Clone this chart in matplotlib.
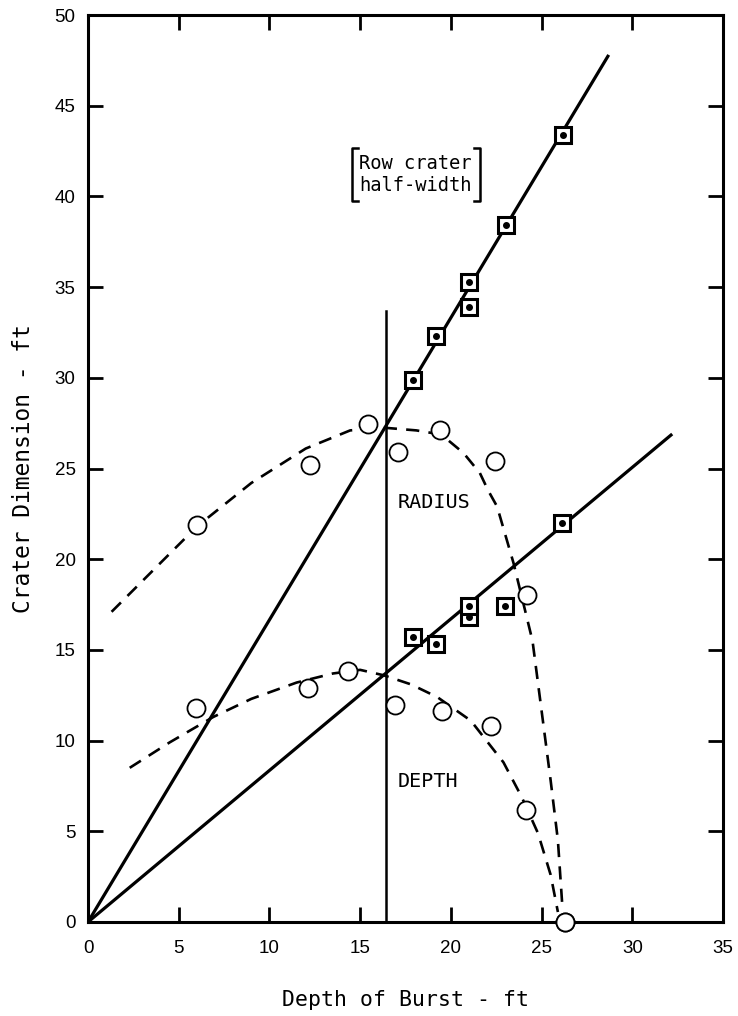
import matplotlib
matplotlib.use("Agg")
import matplotlib.pyplot as plt
from matplotlib.lines import Line2D

# ---- data ----
# Row crater half-width (squares, upper line)
hw_x = [17.9, 19.2, 21.0, 21.0, 23.05, 26.2]
hw_y = [29.9, 32.3, 33.9, 35.3, 38.4, 43.4]
# Row crater depth (squares, lower line)
rd_x = [17.9, 19.2, 21.0, 21.0, 23.0, 26.1]
rd_y = [15.7, 15.3, 16.8, 17.4, 17.4, 22.0]
# Single-crater radius (circles)
rad_x = [6.0, 12.25, 15.45, 17.1, 19.4, 22.45, 24.2, 26.3]
rad_y = [21.9, 25.2, 27.45, 25.9, 27.1, 25.4, 18.0, 0.0]
# Single-crater depth (circles)
dep_x = [5.96, 12.1, 14.35, 16.9, 19.5, 22.2, 24.15, 26.3]
dep_y = [11.8, 12.9, 13.85, 11.96, 11.65, 10.8, 6.2, 0.0]
# Fitted straight lines
hw_line_x = [0.0, 28.7]
hw_line_y = [0.0, 47.8]
rd_line_x = [0.0, 32.2]
rd_line_y = [0.0, 26.9]
# Vertical reference line
vline_x = 16.4
vline_top = 33.7
# Dashed curves
rad_curve_x = [1.3, 3.5, 6.0, 9.0, 12.0, 14.45, 16.3, 18.1, 19.0, 19.8, 20.7, 21.6,
               22.05, 22.55, 23.45, 24.5, 25.5, 25.9, 26.15]
rad_curve_y = [17.1, 19.3, 21.8, 24.2, 26.1, 27.1, 27.25, 27.1, 26.95, 26.6, 25.85, 24.75,
               23.8, 22.9, 19.8, 15.5, 7.8, 4.5, 0.8]
dep_curve_x = [2.3, 4.5, 6.9, 9.0, 11.5, 13.5, 15.0, 16.3, 17.8, 19.25, 21.1, 22.9,
               23.9, 24.8, 25.5, 25.9]
dep_curve_y = [8.5, 9.9, 11.3, 12.3, 13.2, 13.7, 13.9, 13.6, 13.1, 12.4, 11.1, 8.8,
               6.9, 4.9, 2.6, 0.55]

xticks = [0, 5, 10, 15, 20, 25, 30, 35]
yticks = [0, 5, 10, 15, 20, 25, 30, 35, 40, 45, 50]

mono = "DejaVu Sans Mono"
tickfont = "Liberation Sans"

fig = plt.figure(figsize=(7.38, 10.16), dpi=100)
ax = fig.add_axes([88/738, 94/1016, (723-88)/738, (922-15)/1016])

ax.set_xlim(0, 35)
ax.set_ylim(0, 50)

# lines
ax.plot(hw_line_x, hw_line_y, color="black", lw=2.3, solid_capstyle="butt", zorder=3)
ax.plot(rd_line_x, rd_line_y, color="black", lw=2.3, solid_capstyle="butt", zorder=3)
ax.plot([vline_x, vline_x], [0, vline_top], color="black", lw=1.8, zorder=3)
ax.plot(rad_curve_x, rad_curve_y, color="black", lw=1.9, dashes=(5, 3.5), zorder=3)
ax.plot(dep_curve_x, dep_curve_y, color="black", lw=1.9, dashes=(5, 3.5), zorder=3)

# markers
for xs, ys in [(hw_x, hw_y), (rd_x, rd_y)]:
    ax.plot(xs, ys, ls="none", marker="s", ms=11, mfc="white", mec="black", mew=2.2, zorder=5)
    ax.plot(xs, ys, ls="none", marker="o", ms=4.0, mfc="black", mec="black", zorder=6)
for xs, ys in [(rad_x, rad_y), (dep_x, dep_y)]:
    ax.plot(xs, ys, ls="none", marker="o", ms=13, mfc="white", mec="black", mew=1.3,
            zorder=7, clip_on=False)

# annotations
ax.text(17.05, 23.1, "RADIUS", family=mono, fontsize=14.5, va="center", ha="left")
ax.text(17.05, 7.75, "DEPTH", family=mono, fontsize=14.5, va="center", ha="left")
ax.text(14.95, 41.8, "Row crater", family=mono, fontsize=13.5, va="center", ha="left")
ax.text(14.95, 40.6, "half-width", family=mono, fontsize=13.5, va="center", ha="left")
# brackets
bx0, bx1 = 14.55, 21.6
ytop, ybot = 42.65, 39.75
for bx, d in [(bx0, 0.35), (bx1, -0.35)]:
    ax.add_line(Line2D([bx + d, bx, bx, bx + d], [ytop, ytop, ybot, ybot],
                       color="black", lw=1.8, zorder=4))

# axes styling
for s in ax.spines.values():
    s.set_linewidth(2.2)
ax.set_xticks(xticks)
ax.set_yticks(yticks)
ax.tick_params(axis="both", direction="in", length=11, width=2.0,
               top=True, right=True, labelsize=13.5)
ax.tick_params(axis="x", pad=13)
ax.tick_params(axis="y", pad=9)
for lab in ax.get_xticklabels() + ax.get_yticklabels():
    lab.set_family(tickfont)

ax.set_xlabel("Depth of Burst - ft", family=mono, fontsize=15.5)
ax.set_ylabel("Crater Dimension - ft", family=mono, fontsize=16.5)
ax.xaxis.label.set_va("center")
ax.yaxis.label.set_va("center")
ax.xaxis.set_label_coords(0.5, (922 - 1000) / 907)
ax.yaxis.set_label_coords((24 - 88) / 635, 0.5)

fig.savefig("out.png", dpi=100)
